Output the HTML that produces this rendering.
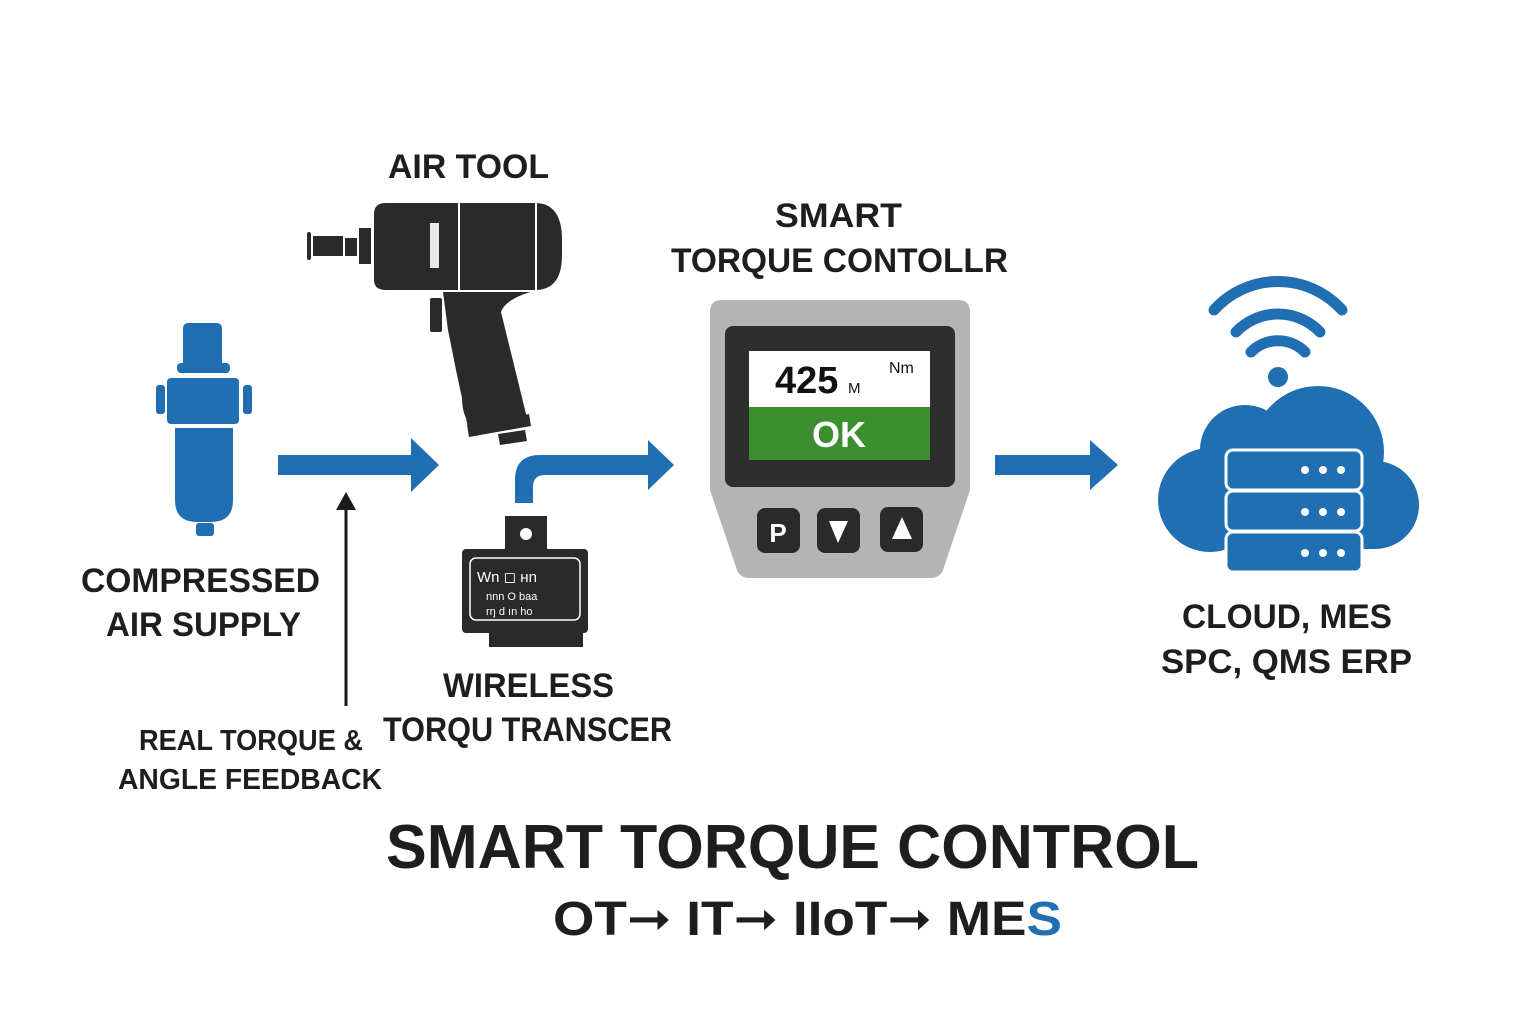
<!DOCTYPE html>
<html><head><meta charset="utf-8"><style>html,body{margin:0;padding:0;background:#fff}svg{display:block}</style></head>
<body>
<svg width="1536" height="1024" viewBox="0 0 1536 1024" xmlns="http://www.w3.org/2000/svg" font-family="Liberation Sans, sans-serif" font-weight="bold">
<rect width="1536" height="1024" fill="#fff"/>
<g fill="#1f6fb2">
<rect x="183" y="323" width="39" height="46" rx="5"/>
<rect x="177" y="363" width="53" height="10" rx="4"/>
<rect x="167" y="378" width="72" height="46" rx="4"/>
<rect x="156" y="385" width="9" height="29" rx="3"/>
<rect x="243" y="385" width="9" height="29" rx="3"/>
<path d="M175 428 H233 V500 Q233 522 211 522 H197 Q175 522 175 500 Z"/>
<rect x="196" y="523" width="18" height="13" rx="3"/>
</g>
<path d="M278 455 H411 V438 L439 465 L411 492 V475 H278 Z" fill="#1f6fb2"/>
<line x1="346" y1="706" x2="346" y2="505" stroke="#1a1a1a" stroke-width="3"/>
<path d="M336 510 L346 492 L356 510 Z" fill="#1a1a1a"/>
<g fill="#2a2a2a">
<rect x="307" y="232" width="4" height="28" rx="2"/>
<rect x="313" y="236" width="30" height="20"/>
<rect x="345" y="238" width="12" height="18"/>
<rect x="359" y="228" width="12" height="36"/>
<path d="M374 214 Q374 203 386 203 H535 Q562 203 562 240 V255 Q562 290 535 290 H386 Q374 290 374 280 Z"/>
<path d="M443 292 H530 Q505 300 501 312 L527 418 L468 428 L466 418 Q462 410 462 398 L456 370 L448 330 Z"/>
<rect x="430" y="298" width="12" height="34" rx="2"/>
<path d="M467 425 L529 414 L531 426 L469 437 Z"/>
<path d="M498 434 L525 430 L527 441 L500 445 Z"/>
</g>
<rect x="430" y="223" width="9" height="45" fill="#e8e8e8"/>
<line x1="459" y1="203" x2="459" y2="290" stroke="#fff" stroke-width="2"/>
<line x1="536" y1="203" x2="536" y2="290" stroke="#fff" stroke-width="2"/>
<path d="M515 503 V480 Q515 455 540 455 H648 V440 L674 465 L648 490 V475 H545 Q533 475 533 487 V503 Z" fill="#1f6fb2"/>
<rect x="505" y="516" width="42" height="34" fill="#2a2a2a"/>
<circle cx="526" cy="534" r="6" fill="#fff"/>
<rect x="462" y="549" width="126" height="84" rx="4" fill="#2a2a2a"/>
<rect x="470" y="558" width="110" height="62" rx="6" fill="none" stroke="#fff" stroke-width="1.5"/>
<rect x="489" y="633" width="94" height="14" fill="#2a2a2a"/>
<text x="477" y="582" font-size="15" font-weight="normal" fill="#fff">Wn ◻ ʜn</text>
<text x="486" y="600" font-size="11" font-weight="normal" fill="#fff">nnn O baa</text>
<text x="486" y="615" font-size="11" font-weight="normal" fill="#fff">rŋ d ın ho</text>
<path d="M722 300 H958 Q970 300 970 312 V490 L943 570 Q940 578 930 578 H750 Q740 578 737 570 L710 490 V312 Q710 300 722 300 Z" fill="#b4b4b4"/>
<rect x="725" y="326" width="230" height="161" rx="8" fill="#2e2e2e"/>
<rect x="749" y="351" width="181" height="56" fill="#fff"/>
<rect x="749" y="407" width="181" height="53" fill="#3b8f2e"/>
<text x="775" y="393" font-size="38" fill="#111">425</text>
<text x="848" y="393" font-size="15" fill="#111" font-weight="normal">M</text>
<text x="889" y="373" font-size="16" fill="#111" font-weight="normal">Nm</text>
<text x="839" y="447" font-size="36" fill="#fff" text-anchor="middle">OK</text>
<rect x="757" y="508" width="43" height="45" rx="8" fill="#2a2a2a"/>
<rect x="817" y="508" width="43" height="45" rx="8" fill="#2a2a2a"/>
<rect x="880" y="507" width="43" height="45" rx="8" fill="#2a2a2a"/>
<text x="778" y="542" font-size="26" fill="#fff" text-anchor="middle">P</text>
<path d="M829 521 H848 L838 543 Z" fill="#fff"/>
<path d="M892 539 H912 L902 517 Z" fill="#fff"/>
<path d="M995 455 H1090 V440 L1118 465 L1090 490 V475 H995 Z" fill="#1f6fb2"/>
<g fill="#1f6fb2">
<circle cx="1210" cy="500" r="52"/>
<circle cx="1245" cy="450" r="45"/>
<circle cx="1318" cy="452" r="66"/>
<circle cx="1375" cy="505" r="44"/>
<rect x="1210" y="480" width="165" height="69"/>
<circle cx="1278" cy="377" r="10"/>
</g>
<g fill="none" stroke="#1f6fb2" stroke-width="11" stroke-linecap="round">
<path d="M1251 352 A38 38 0 0 1 1305 352"/>
<path d="M1236 332 A58 58 0 0 1 1320 332"/>
<path d="M1214 310 A86 86 0 0 1 1342 310"/>
</g>
<g fill="#1f6fb2" stroke="#fff" stroke-width="3">
<rect x="1226" y="450" width="136" height="40" rx="7"/>
<rect x="1226" y="491" width="136" height="40" rx="7"/>
<rect x="1226" y="532" width="136" height="40" rx="7"/>
</g>
<g fill="#fff">
<circle cx="1305" cy="470" r="4"/><circle cx="1323" cy="470" r="4"/><circle cx="1341" cy="470" r="4"/>
<circle cx="1305" cy="512" r="4"/><circle cx="1323" cy="512" r="4"/><circle cx="1341" cy="512" r="4"/>
<circle cx="1305" cy="553" r="4"/><circle cx="1323" cy="553" r="4"/><circle cx="1341" cy="553" r="4"/>
</g>
<g fill="#1e1e1e" font-size="34">
<text x="388" y="178" textLength="161" lengthAdjust="spacingAndGlyphs">AIR TOOL</text>
<text x="775" y="227" textLength="127" lengthAdjust="spacingAndGlyphs">SMART</text>
<text x="671" y="272" textLength="337" lengthAdjust="spacingAndGlyphs">TORQUE CONTOLLR</text>
<text x="81" y="592" textLength="239" lengthAdjust="spacingAndGlyphs">COMPRESSED</text>
<text x="106" y="636" textLength="195" lengthAdjust="spacingAndGlyphs">AIR SUPPLY</text>
<text x="443" y="697" textLength="171" lengthAdjust="spacingAndGlyphs">WIRELESS</text>
<text x="383" y="741" textLength="289" lengthAdjust="spacingAndGlyphs">TORQU TRANSCER</text>
<text x="1182" y="628" textLength="210" lengthAdjust="spacingAndGlyphs">CLOUD, MES</text>
<text x="1161" y="673" textLength="251" lengthAdjust="spacingAndGlyphs">SPC, QMS  ERP</text>
</g>
<g fill="#1e1e1e" font-size="29">
<text x="139" y="750" textLength="224" lengthAdjust="spacingAndGlyphs">REAL TORQUE &amp;</text>
<text x="118" y="789" textLength="264" lengthAdjust="spacingAndGlyphs">ANGLE FEEDBACK</text>
</g>
<text x="386" y="868" font-size="62" fill="#1e1e1e" textLength="813" lengthAdjust="spacingAndGlyphs">SMART TORQUE CONTROL</text>
<text x="553" y="935" font-size="48" fill="#1e1e1e" font-family="Liberation Sans, DejaVu Sans, sans-serif" textLength="509" lengthAdjust="spacingAndGlyphs">OT➞ IT➞ IIoT➞ ME<tspan fill="#1f6fb2">S</tspan></text>
</svg>
</body></html>
